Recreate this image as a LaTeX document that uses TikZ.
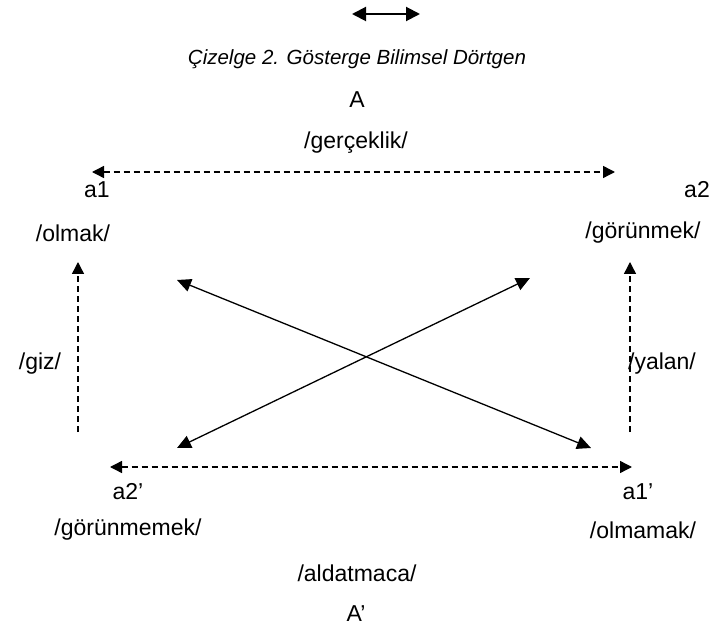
\documentclass[tikz,border=0pt]{standalone}
\usepackage{fontspec}
\setmainfont{Liberation Sans}
\usetikzlibrary{arrows.meta}
\begin{document}
\begin{tikzpicture}[x=1pt,y=-1pt,
  lbl/.style={font=\fontsize{23}{26}\selectfont, inner sep=0pt},
  dline/.style={line width=1.4pt, dash pattern=on 6pt off 4pt, {Triangle[length=12pt,width=12pt]}-{Triangle[length=12pt,width=12pt]}},
  dsingle/.style={line width=1.4pt, dash pattern=on 6pt off 4pt, -{Triangle[length=12pt,width=12pt]}},
  sline/.style={line width=1.3pt, {Triangle[length=14pt,width=13pt]}-{Triangle[length=14pt,width=13pt]}}]
\useasboundingbox (0,0) rectangle (713,639);
% top legend arrow
\coordinate (t1) at (352,14);
\coordinate (t2) at (420,14);
\draw[line width=2pt, {Triangle[length=14pt,width=14pt]}-{Triangle[length=14pt,width=14pt]}] (t1) -- (t2);
\node[lbl, font=\fontsize{20.5}{24}\selectfont\itshape] (cap) at (357,59) {Çizelge 2. Gösterge Bilimsel Dörtgen};
\node[lbl] (A) at (357,100) {A};
\node[lbl] (ger) at (356,143) {/gerçeklik/};
\node[lbl] (a1) at (97,190) {a1};
\node[lbl] (a2) at (697,190) {a2};
\node[lbl] (olmak) at (73,233) {/olmak/};
\node[lbl] (gor) at (643,233) {/görünmek/};
\node[lbl] (giz) at (40,364) {/giz/};
\node[lbl] (yalan) at (662,364) {/yalan/};
\node[lbl] (a2p) at (128,492) {a2’};
\node[lbl] (a1p) at (638,492) {a1’};
\node[lbl] (gorme) at (128,530) {/görünmemek/};
\node[lbl] (olmamak) at (643,530) {/olmamak/};
\node[lbl] (ald) at (357,573) {/aldatmaca/};
\node[lbl] (Ap) at (356,614) {A’};
% connector endpoints
\coordinate (tl) at (92,172);
\coordinate (tr) at (615,172);
\coordinate (bl) at (110,467);
\coordinate (br) at (632,467);
\coordinate (lb) at (78,432);
\coordinate (lt) at (78,262);
\coordinate (rb) at (630,432);
\coordinate (rt) at (630,262);
\coordinate (d1a) at (177,280);
\coordinate (d1b) at (591,448);
\coordinate (d2a) at (530,278);
\coordinate (d2b) at (177,448);
\draw[dline] (tl) -- (tr);
\draw[dline] (bl) -- (br);
\draw[dsingle] (lb) -- (lt);
\draw[dsingle] (rb) -- (rt);
\draw[sline] (d1a) -- (d1b);
\draw[sline] (d2a) -- (d2b);
\end{tikzpicture}
\end{document}
